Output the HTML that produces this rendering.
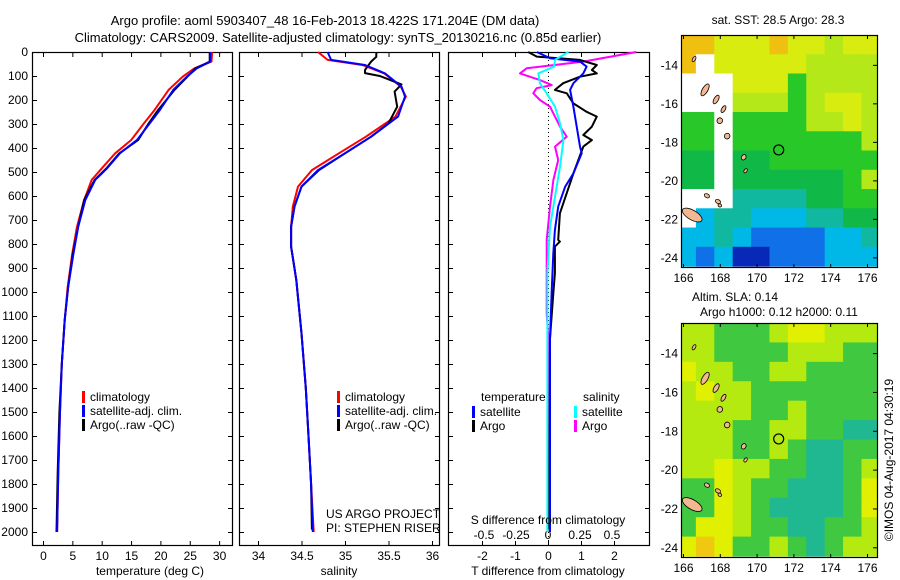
<!DOCTYPE html>
<html><head><meta charset="utf-8"><style>
html,body{margin:0;padding:0;background:#fff;}
svg{display:block;font-family:"Liberation Sans",sans-serif;}
text{font-size:12px;fill:#000;}
</style></head><body>
<svg id="fig" width="900" height="580" viewBox="0 0 900 580">
<text x="325" y="25" text-anchor="middle" style="font-size:13px">Argo profile: aoml 5903407_48 16-Feb-2013 18.422S 171.204E (DM data)</text>
<text x="338" y="42" text-anchor="middle" style="font-size:13px">Climatology: CARS2009. Satellite-adjusted climatology: synTS_20130216.nc (0.85d earlier)</text>
<g id="panels"></g>
<text x="150" y="575" text-anchor="middle">temperature (deg C)</text>
<text x="339" y="575" text-anchor="middle">salinity</text>
<text x="548" y="575" text-anchor="middle">T difference from climatology</text>
<text x="548" y="524" text-anchor="middle">S difference from climatology</text>
<text x="326" y="518">US ARGO PROJECT</text>
<text x="326" y="532">PI: STEPHEN RISER</text>
<text x="778" y="24" text-anchor="middle">sat. SST: 28.5 Argo: 28.3</text>
<text x="735" y="301" text-anchor="middle">Altim. SLA: 0.14</text>
<text x="779" y="316" text-anchor="middle">Argo h1000: 0.12 h2000: 0.11</text>
<text transform="translate(893,460) rotate(-90)" text-anchor="middle">©IMOS 04-Aug-2017 04:30:19</text>
</svg>
<script>
// ---- data ----
const depthTicks=[0,100,200,300,400,500,600,700,800,900,1000,1100,1200,1300,1400,1500,1600,1700,1800,1900,2000];
const tempTicks=[0,5,10,15,20,25,30];
const salTicks=[34,34.5,35,35.5,36];
const tdiffTicks=[-2,-1,0,1,2];
const sdiffTicks=[-0.5,-0.25,0,0.25,0.5];
const tempDepth=[0,40,68,103,158,242,297,367,422,485,533,617,728,839,978,1117,1300,1500,1750,2000];
const tempClim=[28.8,28.7,25.8,23.8,21.4,19.0,17.2,15.0,12.3,10.0,8.3,7.0,5.8,5.0,4.2,3.7,3.2,2.9,2.6,2.4];
const tempSat=[28.5,28.5,26.2,24.5,22.2,19.9,18.2,16.0,13.1,10.9,8.9,7.2,6.0,5.2,4.3,3.7,3.2,2.9,2.6,2.4];
const tempArgo=[28.4,28.4,26.0,24.6,22.4,19.6,18.0,16.2,13.0,10.8,8.8,7.0,6.0,5.1,4.3,3.7,3.2,2.8,2.5,2.3];
const salDepth=[0,33,54,89,144,186,269,353,422,492,561,644,728,811,950,1172,1400,1600,1800,2000];
const salClim=[34.69,34.80,35.20,35.45,35.64,35.70,35.58,35.24,34.93,34.62,34.46,34.40,34.38,34.38,34.44,34.50,34.55,34.58,34.61,34.64];
const salSat=[34.80,34.84,35.23,35.46,35.65,35.69,35.61,35.30,35.0,34.69,34.50,34.42,34.38,34.38,34.44,34.50,34.55,34.58,34.61,34.63];
const salArgoDepth=[0,20,40,75,88,100,135,165,228,297,353,422,492,561,644,728,811,950,1172,1400,1600,1800,1990];
const salArgo=[35.36,35.36,35.30,35.23,35.23,35.40,35.65,35.57,35.60,35.50,35.30,35.0,34.70,34.50,34.42,34.38,34.38,34.44,34.50,34.55,34.58,34.61,34.62];
const tdSatDepth=[0,26,40,61,89,130,158,228,311,394,422,506,561,644,742,839,1006,1194,1600,2000];
const tdSat=[-0.34,0.06,0.97,1.17,1.07,0.77,0.67,0.77,0.87,0.97,1.02,0.77,0.52,0.31,0.21,0.16,0.11,0.06,0.06,0.06];
const tdArgoDepth=[0,19,33,54,75,89,103,130,158,172,214,249,269,311,346,367,394,506,672,783,790,811,922,1006,1194,1600,1990];
const tdArgo=[-0.6,-0.34,0.97,1.48,1.33,1.48,0.97,0.46,0.21,0.57,0.77,1.17,1.48,1.33,1.07,1.33,1.07,0.77,0.36,0.31,0.36,0.21,0.21,0.16,0.06,0.05,0.04];
const sdSatDepth=[0,33,61,89,130,172,228,297,367,478,603,728,922,1194,1600,2000];
const sdSat=[0.159,0.055,0.047,-0.076,-0.063,-0.01,0.055,0.094,0.12,0.094,0.055,0.016,-0.005,-0.005,-0.005,-0.005];
const sdArgoDepth=[0,40,68,89,117,138,151,172,200,228,311,353,394,450,533,644,783,1089,1194,1600,1990];
const sdArgo=[0.69,0.276,-0.167,-0.219,-0.063,0.029,-0.089,-0.115,-0.063,0.016,0.094,0.146,0.055,0.08,0.042,0.016,-0.01,-0.01,0.003,0.0,0.0];

// ---- axes ----
const NS="http://www.w3.org/2000/svg";
const g=document.getElementById('panels');
const PT=52,PB=545;
const yD=d=>PT+d*0.24;
const xT=t=>43+t*5.87;
const xS=s=>258+(s-34)*87;
const xTD=t=>548+t*33;
const xSD=s=>548+s*128;
function el(tag,attrs,parent){const e=document.createElementNS(NS,tag);for(const k in attrs)e.setAttribute(k,attrs[k]);(parent||g).appendChild(e);return e;}
function txt(x,y,s,anchor,name){const t=el('text',{x:x,y:y,'text-anchor':anchor||'middle'});t.textContent=s;


return t;}

const panels=[[32,232,'temperature-panel'],[239,439,'salinity-panel'],[448,649,'difference-panel']];
panels.forEach(p=>{
 const r=el('rect',{x:p[0]+0.5,y:PT+0.5,width:p[1]-p[0],height:PB-PT,fill:'none',stroke:'#000','stroke-width':1.2});
 
 
 depthTicks.forEach(d=>{const y=yD(d)+0.5;
  el('line',{x1:p[0],x2:p[0]+5,y1:y,y2:y,stroke:'#000'});
  el('line',{x1:p[1]-4,x2:p[1]+1,y1:y,y2:y,stroke:'#000'});});
});
depthTicks.forEach(d=>{txt(28,yD(d)+4,String(d),'end','depth-tick-label');});
function xticks(vals,fx,labels,name){vals.forEach(v=>{const x=fx(v)+0.5;
 el('line',{x1:x,x2:x,y1:PT,y2:PT+5,stroke:'#000'});
 el('line',{x1:x,x2:x,y1:PB-4,y2:PB+1,stroke:'#000'});
 if(labels)txt(x,560,String(v),'middle',name);});}
xticks(tempTicks,xT,true,'temperature-tick-label');
xticks(salTicks,xS,true,'salinity-tick-label');
xticks(tdiffTicks,xTD,true,'t-diff-tick-label');
sdiffTicks.forEach(v=>txt(xSD(v),539,String(v),'middle','s-diff-tick-label'));
el('line',{x1:548.5,x2:548.5,y1:PT,y2:PB,stroke:'#000','stroke-dasharray':'1,3'});

function line(xs,ds,fx,color,w,name){
 const pts=xs.map((v,i)=>fx(v).toFixed(1)+','+yD(ds[i]).toFixed(1)).join(' ');
 const l=el('polyline',{points:pts,fill:'none',stroke:color,'stroke-width':w,'stroke-linejoin':'round'});
 
 }
line(tempClim,tempDepth,xT,'#f00',2,'temperature-climatology-line');
line(tempArgo,tempDepth,xT,'#000',2,'temperature-argo-line');
line(tempSat,tempDepth,xT,'#00f',2,'temperature-satellite-line');
line(salClim,salDepth,xS,'#f00',2,'salinity-climatology-line');
line(salArgo,salArgoDepth,xS,'#000',2,'salinity-argo-line');
line(salSat,salDepth,xS,'#00f',2,'salinity-satellite-line');
line(sdArgo,sdArgoDepth,xSD,'#f0f',2,'s-diff-argo-line');
line(tdArgo,tdArgoDepth,xTD,'#000',2,'t-diff-argo-line');
line(tdSat,tdSatDepth,xTD,'#00f',2,'t-diff-satellite-line');
line(sdSat,sdSatDepth,xSD,'#0ff',2,'s-diff-satellite-line');

function leg(x,y,color,label,name){
 const b=el('rect',{x:x,y:y-9,width:3,height:12,fill:color});
 
 
 txt(x+8,y+1,label,'start',name);}
[[82,'#f00','climatology'],[82,'#00f','satellite-adj. clim.'],[82,'#000','Argo(..raw -QC)']].forEach((l,i)=>{leg(l[0],400+i*14,l[1],l[2],'temperature-legend-entry');});
[[337,'#f00','climatology'],[337,'#00f','satellite-adj. clim.'],[337,'#000','Argo(..raw -QC)']].forEach((l,i)=>{leg(l[0],400+i*14,l[1],l[2],'salinity-legend-entry');});
txt(481,401,'temperature','start','diff-legend-temperature-header');
txt(583,401,'salinity','start','diff-legend-salinity-header');
leg(472,415,'#00f','satellite','diff-legend-t-satellite');
leg(472,429,'#000','Argo','diff-legend-t-argo');
leg(574,415,'#0ff','satellite','diff-legend-s-satellite');
leg(574,429,'#f0f','Argo','diff-legend-s-argo');

// ---- maps ----
const pal1={O:'#f0c010',Y:'#d8ec10',L:'#b4e818',G:'#28c828',g:'#10b848',T:'#10b8a0',C:'#00b8e8',B:'#1070e8',D:'#0828b8',W:'#ffffff'};
const sstGrid=["OOYYYOYYLYY","OWYYYYYLLLL","WWWYYYGLLLL","WWWLLLGLYYL","GGWGGGGLLYL","GGWGGGGGGGL","ggWggGGGGGG","ggWggggggGL","WWWTTTTggGG","WCTTCCCTTgg","CCTCBBBBCCT","CBCDDBBBCCC"];
const pal2={O:'#f0c810',Y:'#e0f000',L:'#b4ea10',G:'#40c840',T:'#20b890'};
const slaGrid=["LLGGGLYYLLL","LLGGGGLLLGG","YLLGGLLGGGG","LYLLGGGGGGG","LLLLGGLGGGG","LLLGGLLGGTT","LLLGGLGTTGG","LLYLLGGTTGL","GGYLGGTTTGY","GGYLGTTTTGY","GYYLGGTTGGL","YOYGGLGTGLL"];
const lonTicks=[166,168,170,172,174,176];
const latTicks=[-14,-16,-18,-20,-22,-24];
const floatLon=171.2, floatLat=-18.42;
const islands=[[166.6,-13.7,0.08,0.15],[167.2,-15.3,0.15,0.35],[167.8,-15.8,0.12,0.25],[168.2,-16.3,0.1,0.2],[168.0,-16.9,0.15,0.15],[168.4,-17.7,0.15,0.15],[169.3,-18.8,0.12,0.15],[169.4,-19.5,0.08,0.12],[167.3,-20.8,0.15,0.1],[167.9,-21.1,0.15,0.1],[166.5,-21.8,0.6,0.25],[168.0,-21.3,0.1,0.08]];
function drawMap(top,bottom,latTop,grid,pal,name){
 const L=681,R=877,lon0=165.7,lonK=18.4,latK=(bottom-top)/12.05;
 const fx=lon=>683+(lon-166)*lonK;
 const fy=lat=>top+(latTop-lat)*latK;
 const cid='clip'+name;
 const cp=el('clipPath',{id:cid});el('rect',{x:L,y:top,width:R-L,height:bottom-top},cp);
 const mg=el('g',{'clip-path':'url(#'+cid+')'});
 
 
 grid.forEach((row,ri)=>{[...row].forEach((c,ci)=>{
  el('rect',{x:fx(lon0+ci),y:fy(latTop-ri),width:lonK+0.6,height:latK+0.6,fill:pal[c]},mg);});});
 islands.forEach(s=>{el('ellipse',{cx:fx(s[0]),cy:fy(s[1]),rx:s[2]*lonK,ry:s[3]*latK,fill:'#f4b890',stroke:'#000','stroke-width':0.8,transform:'rotate(30 '+fx(s[0])+' '+fy(s[1])+')'},mg);});
 const c=el('circle',{cx:fx(floatLon),cy:fy(floatLat),r:5,fill:'none',stroke:'#000','stroke-width':1.2});
 
 
 el('rect',{x:L+0.5,y:top+0.5,width:R-L,height:bottom-top,fill:'none',stroke:'#000','stroke-width':1.2});
 lonTicks.forEach(v=>{const x=fx(v)+0.5;el('line',{x1:x,x2:x,y1:top,y2:top+4,stroke:'#000'});el('line',{x1:x,x2:x,y1:bottom-3,y2:bottom+1,stroke:'#000'});txt(x,bottom+15,String(v),'middle',name+'-lon-label');});
 latTicks.forEach(v=>{const y=fy(v)+0.5;el('line',{x1:R-4,x2:R+1,y1:y,y2:y,stroke:'#000'});txt(L-3,y+4,String(v),'end',name+'-lat-label');});
}
drawMap(35,267,-12.45,sstGrid,pal1,'sst-map');
drawMap(323,557,-12.45,slaGrid,pal2,'sla-map');
</script>
</body></html>
